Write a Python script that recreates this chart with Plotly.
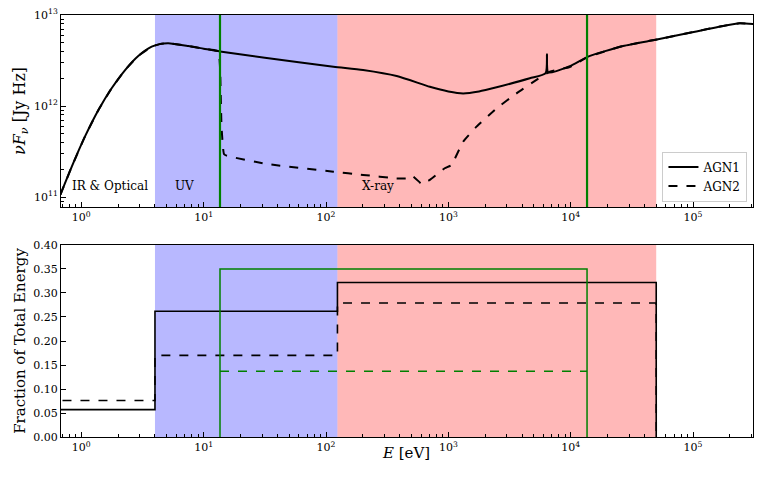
import math
import plotly.graph_objects as go
from plotly.subplots import make_subplots

# ---------------- data ----------------
agn1_E = [0.676, 0.69, 0.836, 1.07, 1.38, 1.77, 2.28, 2.92, 3.76, 4.37, 5.14, 7.48, 10.0, 13.6,
          31.6, 115, 201, 378, 706, 1000, 1320, 1780, 2480, 4630, 6240, 6400, 6560, 9840,
          13870, 26800, 51800, 94000, 176000, 240000, 316000]
agn1_F = [1.07e11, 1.15e11, 2.17e11, 4.62e11, 9.08e11, 1.57e12, 2.49e12, 3.55e12, 4.49e12, 4.79e12,
          4.90e12, 4.57e12, 4.27e12, 3.98e12, 3.39e12, 2.71e12, 2.49e12, 2.14e12, 1.63e12, 1.45e12,
          1.38e12, 1.45e12, 1.61e12, 2.02e12, 2.30e12, 3.72e12, 2.34e12, 2.75e12, 3.49e12, 4.57e12,
          5.41e12, 6.40e12, 7.59e12, 8.11e12, 7.94e12]

agn2_E = [0.676, 0.69, 0.836, 1.07, 1.38, 1.77, 2.28, 2.92, 3.76, 4.37, 5.14, 7.48, 10.0, 13.15,
          13.6, 14.0, 14.65, 15.4, 32.7, 115, 201, 378, 470, 510, 604, 622, 706, 935, 1060, 1320,
          1700, 2480, 3610, 5250, 6750, 9840, 13870, 26800, 51800, 94000, 176000, 240000, 316000]
agn2_F = [1.07e11, 1.15e11, 2.17e11, 4.62e11, 9.08e11, 1.57e12, 2.49e12, 3.55e12, 4.49e12, 4.79e12,
          4.90e12, 4.57e12, 4.27e12, 4.00e12, 2.70e12, 5.9e11, 2.99e11, 2.86e11, 2.32e11, 1.91e11,
          1.76e11, 1.61e11, 1.61e11, 1.71e11, 1.40e11, 1.42e11, 1.55e11, 2.08e11, 2.26e11, 4.07e11,
          5.96e11, 9.46e11, 1.38e12, 1.94e12, 2.39e12, 2.69e12, 3.47e12, 4.57e12, 5.41e12, 6.40e12,
          7.59e12, 8.11e12, 7.94e12]

# band edges (eV): IR&Optical | UV | X-ray
band_edges = [0.5, 4.0, 124.0, 5.0e4]
agn1_frac = [0.057, 0.262, 0.322]
agn2_frac = [0.076, 0.170, 0.279]

# ionizing range 13.6 eV - 13.6 keV
ion_edges = [13.6, 13.6e3]
ion_frac_solid = 0.350
ion_frac_dashed = 0.137

region_labels = ["IR & Optical", "UV", "X-ray"]
region_label_E = [1.70, 7.03, 265.0]

# ---------------- figure ----------------
fig = make_subplots(rows=2, cols=1)

BLUE = "rgba(0,0,255,0.28)"
RED = "rgba(255,0,0,0.28)"
GREEN = "#008000"
FONT = "DejaVu Serif"

fig.add_trace(go.Scatter(x=agn1_E, y=agn1_F, mode="lines", name="AGN1",
                         line=dict(color="black", width=2, shape="spline", smoothing=0.6)),
              row=1, col=1)
fig.add_trace(go.Scatter(x=agn2_E, y=agn2_F, mode="lines", name="AGN2",
                         line=dict(color="black", width=2, dash="dash", shape="spline", smoothing=0.4)),
              row=1, col=1)

# bottom panel step histograms
xs1 = [band_edges[0], band_edges[1], band_edges[2], band_edges[3], band_edges[3]]
ys1 = agn1_frac + [agn1_frac[-1], 0]
fig.add_trace(go.Scatter(x=xs1, y=ys1, mode="lines", line_shape="hv", showlegend=False,
                         line=dict(color="black", width=1.6)), row=2, col=1)
ys2 = agn2_frac + [agn2_frac[-1], 0]
fig.add_trace(go.Scatter(x=xs1, y=ys2, mode="lines", line_shape="hv", showlegend=False,
                         line=dict(color="black", width=1.6, dash="dash")), row=2, col=1)
fig.add_trace(go.Scatter(x=[ion_edges[0], ion_edges[0], ion_edges[1], ion_edges[1]],
                         y=[0, ion_frac_solid, ion_frac_solid, 0], mode="lines", showlegend=False,
                         line=dict(color=GREEN, width=1.5)), row=2, col=1)
fig.add_trace(go.Scatter(x=ion_edges, y=[ion_frac_dashed, ion_frac_dashed], mode="lines",
                         showlegend=False, line=dict(color=GREEN, width=1.5, dash="dash")), row=2, col=1)

# shaded regions and green lines
for yref in ["y domain", "y2 domain"]:
    xref = "x" if yref == "y domain" else "x2"
    fig.add_shape(type="rect", xref=xref, yref=yref, x0=band_edges[1], x1=band_edges[2], y0=0, y1=1,
                  fillcolor=BLUE, line_width=0, layer="below")
    fig.add_shape(type="rect", xref=xref, yref=yref, x0=band_edges[2], x1=band_edges[3], y0=0, y1=1,
                  fillcolor=RED, line_width=0, layer="below")
for e in ion_edges:
    fig.add_shape(type="line", xref="x", yref="y domain", x0=e, x1=e, y0=0, y1=1,
                  line=dict(color=GREEN, width=2.2), layer="above")

for lab, e in zip(region_labels, region_label_E):
    fig.add_annotation(x=math.log10(e), xref="x", y=0.06, yref="y domain", text=lab,
                       showarrow=False, font=dict(family=FONT, size=12, color="black"))

dec_vals = [10 ** k for k in range(0, 6)]
dec_text = ["10<sup>%d</sup>" % k for k in range(0, 6)]
minor_x = [m * 10 ** k for k in range(-1, 6) for m in range(2, 10)]
minor_y = [m * 10 ** k for k in range(10, 13) for m in range(2, 10)]

axis_common = dict(showline=True, linecolor="black", linewidth=1, mirror=True, ticks="inside",
                   ticklen=5, tickcolor="black", showgrid=False, zeroline=False, automargin=False,
                   tickfont=dict(family=FONT, size=11, color="black"))

for ax in ["xaxis", "xaxis2"]:
    fig.layout[ax].update(type="log", range=[-0.166, 5.49], tickvals=dec_vals, ticktext=dec_text,
                          minor=dict(tickvals=minor_x, ticks="inside", ticklen=3, tickcolor="black"),
                          **axis_common)

fig.add_annotation(x=0.4986, xref="paper", y=-0.038, yref="paper", text="<i>E</i> [eV]",
                   showarrow=False, yanchor="middle",
                   font=dict(family=FONT, size=15, color="black"))

fig.layout.yaxis.update(type="log", range=[10.893, 13.0], tickvals=[1e11, 1e12, 1e13],
                        ticktext=["10<sup>11</sup>", "10<sup>12</sup>", "10<sup>13</sup>"],
                        minor=dict(tickvals=minor_y, ticks="inside", ticklen=3, tickcolor="black"),
                        domain=[0.545, 1.0],
                        title=dict(text="<i>νF<sub>ν</sub></i> [Jy Hz]",
                                   font=dict(family=FONT, size=16, color="black"), standoff=4),
                        **axis_common)
fig.layout.yaxis2.update(range=[0, 0.4], tickvals=[0, 0.05, 0.1, 0.15, 0.2, 0.25, 0.3, 0.35, 0.4],
                         tickformat=".2f", domain=[0.0, 0.455],
                         title=dict(text="Fraction of Total Energy",
                                    font=dict(family=FONT, size=15, color="black"), standoff=4),
                         **axis_common)

fig.update_layout(
    width=764, height=485,
    margin=dict(l=61, r=11, t=15, b=48),
    plot_bgcolor="white", paper_bgcolor="white",
    font=dict(family=FONT, size=11, color="black"),
    legend=dict(x=0.992, y=0.558, xanchor="right", yanchor="bottom", bgcolor="white",
                bordercolor="#cccccc", borderwidth=1, font=dict(family=FONT, size=12, color="black"),
                tracegroupgap=0),
)

fig.write_html("out.html", config={"displayModeBar": False},
               post_script="document.body.style.margin='0px';document.body.style.overflow='hidden';")
